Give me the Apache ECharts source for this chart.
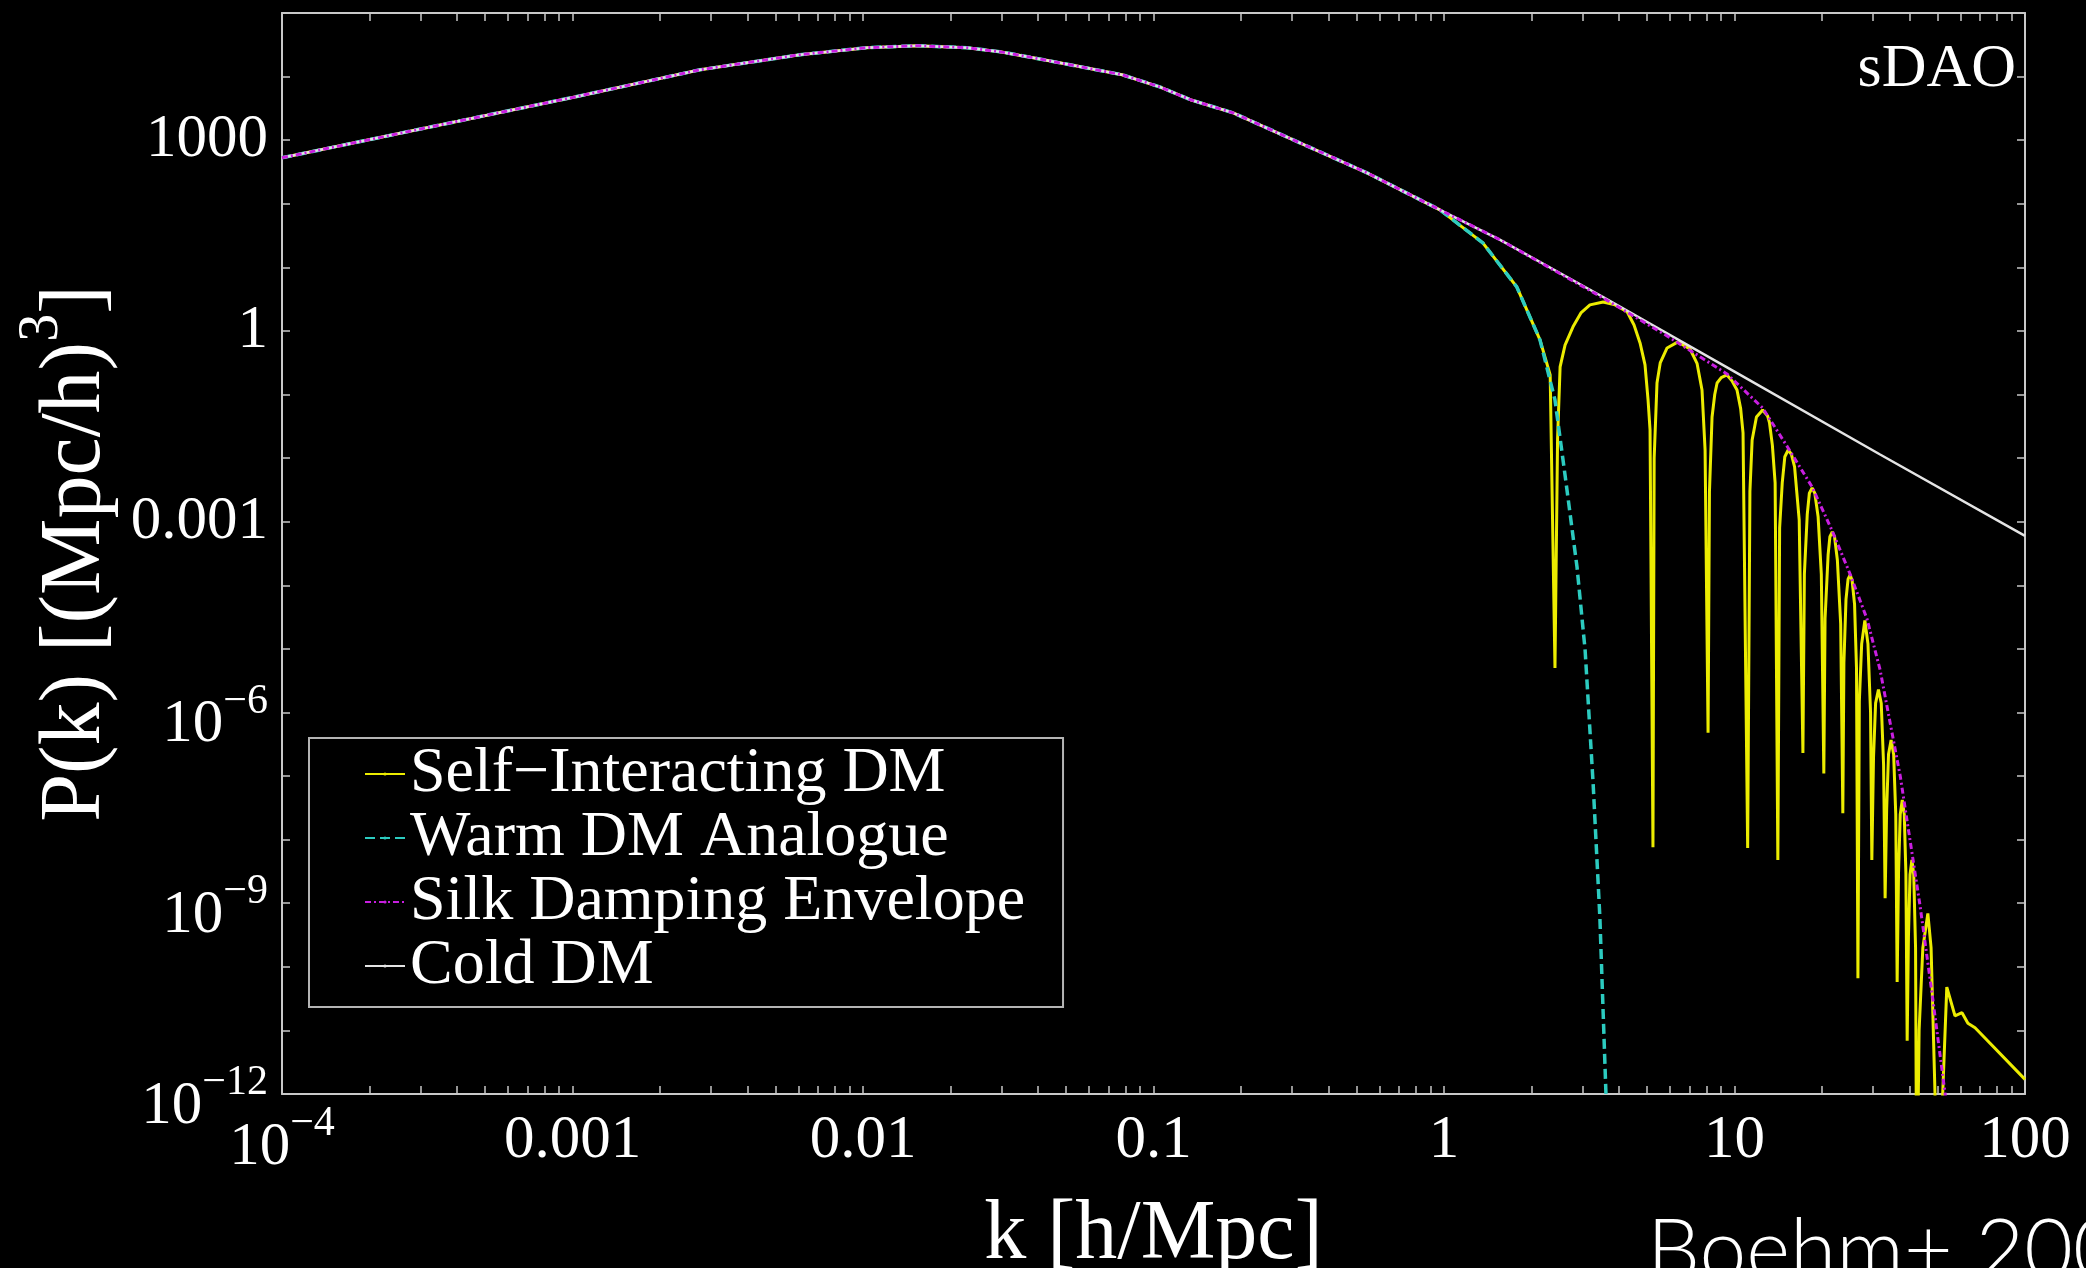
<!DOCTYPE html>
<html><head><meta charset="utf-8">
<script src="https://cdn.jsdelivr.net/npm/echarts@6/dist/echarts.min.js"></script>
<style>html,body{margin:0;padding:0;background:#000;overflow:hidden}#c{width:2086px;height:1268px}</style>
</head><body><div id="c"></div>
<script>
// ---- data (k in h/Mpc, P in (Mpc/h)^3) ----
// common large-scale part (all four spectra coincide here)
const lowK = [1e-4, 3e-4, 1e-3, 2.75e-3, 6.07e-3, 0.0103, 0.0154, 0.0228, 0.0296, 0.0385, 0.055, 0.0779, 0.105, 0.134, 0.188, 0.319, 0.543, 0.968];
const lowP = [528, 1500, 4700, 12800, 22100, 28500, 30600, 28500, 24600, 19800, 14500, 10700, 6900, 4330, 2690, 910, 307, 80.3];

const cdmK = [1.56, 3.53, 10, 31.6, 100];
const cdmP = [27.1, 3.42, 0.229, 0.0115, 5.97e-4];

const silkK = [1.56, 3.53, 5.86, 9.42, 12.5, 15.3, 18.5, 21.7, 25.0, 28.6, 31.7, 37.2, 43.5, 48.2, 53.1, 57.4];
const silkP = [27.1, 3.3, 0.836, 0.211, 0.0615, 0.01445, 3.52e-3, 7.14e-4, 1.5e-4, 2.94e-5, 4.7e-6, 1.0e-7, 9.3e-10, 3.0e-11, 1.0e-12, 2e-14];

const wdmK = [1.36, 1.78, 2.14, 2.41, 2.61, 2.87, 3.06, 3.26, 3.44, 3.61, 3.73];
const wdmP = [24.3, 4.93, 0.723, 0.0822, 5.43e-3, 1.94e-4, 9.6e-6, 7.8e-8, 6.0e-10, 1e-12, 1e-14];

const sidmK = [1.36, 1.78, 2.14, 2.32,
  2.41, 2.46, 2.51, 2.61, 2.78, 2.96, 3.18, 3.53, 3.88, 4.27, 4.51, 4.73, 4.92, 5.04, 5.12,
  5.24, 5.29, 5.41, 5.55, 5.86, 6.39, 7.03, 7.43, 7.73, 7.92,
  8.11, 8.2, 8.37, 8.55, 8.71, 9.0, 9.42, 9.8, 10.2, 10.5, 10.7,
  11.1, 11.3, 11.5, 11.9, 12.5, 13.0, 13.2, 13.5, 13.8,
  14.1, 14.3, 14.6, 14.9, 15.3, 15.7, 16.1, 16.7,
  17.2, 17.4, 17.8, 18.1, 18.5, 18.9, 19.4, 19.9,
  20.3, 20.5, 21.0, 21.3, 21.7, 22.1, 22.6, 23.2,
  23.6, 23.8, 24.2, 24.6, 25.0, 25.4, 25.9, 26.3,
  26.6, 26.9, 27.4, 28.1, 28.8, 29.4,
  29.7, 30.1, 30.6, 31.3, 32.0, 32.6,
  33.0, 33.4, 33.9, 34.6, 35.3, 35.9,
  36.3, 36.7, 37.2, 37.8, 38.4, 38.9,
  39.3, 39.7, 40.2, 40.8, 41.4, 42.0,
  42.4, 43.2, 44.5, 46.3, 47.5, 49.0,
  50.1, 53.8, 57.4, 60.7, 63.6, 67.3, 100];
const sidmP = [24.3, 4.93, 0.723, 0.204,
  5.0e-6, 0.02, 0.272, 0.60, 1.16, 1.92, 2.57, 2.86, 2.57, 2.0, 1.24, 0.648, 0.292, 0.0822, 0.0277,
  7.6e-9, 0.01, 0.152, 0.314, 0.54, 0.673, 0.52, 0.31, 0.118, 0.0134,
  4.8e-7, 0.003, 0.0443, 0.10, 0.152, 0.184, 0.203, 0.164, 0.118, 0.06, 0.0249,
  7.4e-9, 0.003, 0.0193, 0.0443, 0.0571, 0.046, 0.0357, 0.016, 4.07e-3,
  4.8e-9, 8e-4, 4.07e-3, 0.0105, 0.0134, 0.0115, 7.3e-3, 1.07e-3,
  2.3e-7, 1.5e-4, 1.3e-3, 2.8e-3, 3.4e-3, 2.8e-3, 1.2e-3, 1.5e-4,
  1.1e-7, 3e-5, 3e-4, 5.8e-4, 6.9e-4, 5.8e-4, 2.5e-4, 2.5e-5,
  2.6e-8, 6e-6, 6e-5, 1.25e-4, 1.45e-4, 1.2e-4, 5e-5, 5e-6,
  6.6e-11, 1.5e-6, 1.2e-5, 2.8e-5, 1.2e-5, 1e-6,
  4.8e-9, 2e-7, 1.4e-6, 2.3e-6, 1.4e-6, 1.5e-7,
  1.2e-9, 3e-8, 2.2e-7, 3.7e-7, 2.2e-7, 2.5e-8,
  5.8e-11, 3e-9, 2.5e-8, 4.2e-8, 2.5e-8, 3e-9,
  6.9e-12, 3e-10, 2.8e-9, 4.8e-9, 2.8e-9, 2e-10,
  1e-14, 1e-11, 2e-10, 6.9e-10, 2e-10, 1e-12,
  1e-14, 4.8e-11, 1.7e-11, 1.9e-11, 1.3e-11, 1.1e-11, 1.7e-12];

// ---- axis ticks / labels ----
const xLabelValues = [1e-4, 1e-3, 1e-2, 0.1, 1, 10, 100];
const xLabelTexts = ['{b|10}{s|\u22124}', '0.001', '0.01', '0.1', '1', '10', '100'];
const yLabelValues = [1e-12, 1e-9, 1e-6, 1e-3, 1, 1000];
const yLabelTexts = ['{b|10}{s|\u221212}', '{b|10}{s|\u22129}', '{b|10}{s|\u22126}', '0.001', '1', '1000'];
const xDecades = [1e-4, 1e-3, 1e-2, 0.1, 1, 10];
const mantissas = [1, 2, 3, 4, 5, 6, 7, 8, 9];
const yTickValues = [1e-12, 1e-11, 1e-10, 1e-9, 1e-8, 1e-7, 1e-6, 1e-5, 1e-4, 1e-3, 1e-2, 0.1, 1, 10, 100, 1000, 1e4, 1e5];

const seriesNames = ['Self\u2212Interacting DM', 'Warm DM Analogue', 'Silk Damping Envelope', 'Cold DM'];

function pairs(ks, ps) { return ks.map((k, i) => [k, ps[i]]); }
const xTickValues = [];
xDecades.forEach(d => mantissas.forEach(m => xTickValues.push(m * d)));
xTickValues.push(100);

function pick(values, texts, v) {
  for (let i = 0; i < values.length; i++) {
    if (Math.abs(Math.log10(v) - Math.log10(values[i])) < 1e-6) return texts[i];
  }
  return '';
}

const SERIF = 'Liberation Serif, Times New Roman, serif';
const frame = '#c8c8c8';
const tickStyle = { color: frame, width: 1.5 };

const xRich = {
  b: { fontSize: 61, fontFamily: SERIF, color: '#fff', lineHeight: 62, padding: [14, 0, 0, 0] },
  s: { fontSize: 42, fontFamily: SERIF, color: '#fff', lineHeight: 42, padding: [0, 0, 34, 0] }
};
const yRich = {
  b: { fontSize: 61, fontFamily: SERIF, color: '#fff', lineHeight: 62, padding: [26, 0, 0, 0] },
  s: { fontSize: 42, fontFamily: SERIF, color: '#fff', lineHeight: 42, padding: [12, 0, 34, 0] }
};

const chart = echarts.init(document.getElementById('c'), null, { renderer: 'canvas' });
chart.setOption({
  backgroundColor: '#000',
  animation: false,
  title: [
    { text: 'sDAO', right: 70, top: 39, padding: 0,
      textStyle: { color: '#fff', fontFamily: SERIF, fontSize: 62, fontWeight: 'normal' } },
    { text: 'Boehm+ 200', left: 1647, top: 1210, padding: 0,
      textStyle: { color: '#fff', fontFamily: 'Lato, Open Sans, sans-serif', fontSize: 84, fontWeight: 300 } }
  ],
  grid: { left: 282, right: 61, top: 13, bottom: 174, containLabel: false, outerBoundsMode: 'none' },
  legend: {
    orient: 'vertical', left: 309, top: 738,
    backgroundColor: '#000', borderColor: '#b4b4b4', borderWidth: 2, borderRadius: 0,
    padding: [4, 38, 9, 55],
    itemWidth: 40, itemHeight: 4, itemGap: 0,
    selectedMode: false,
    textStyle: { color: '#fff', fontFamily: SERIF, fontSize: 64, lineHeight: 64 },
    data: seriesNames
  },
  xAxis: [
    { type: 'log', logBase: 10, min: 1e-4, max: 100, position: 'bottom',
      name: 'k [h/Mpc]', nameLocation: 'middle', nameGap: 100,
      nameTextStyle: { color: '#fff', fontFamily: SERIF, fontSize: 84, lineHeight: 84 },
      axisLine: { show: true, lineStyle: { color: frame, width: 2 } },
      axisTick: { show: true, inside: true, length: 8, customValues: xTickValues, lineStyle: tickStyle },
      axisLabel: { show: true, margin: 16, customValues: xLabelValues, color: '#fff', fontFamily: SERIF, fontSize: 61, lineHeight: 62,
        formatter: v => pick(xLabelValues, xLabelTexts, v), rich: xRich },
      splitLine: { show: false }, minorTick: { show: false }
    },
    { type: 'log', logBase: 10, min: 1e-4, max: 100, position: 'top',
      axisLine: { show: true, lineStyle: { color: frame, width: 2 } },
      axisTick: { show: true, inside: true, length: 8, customValues: xTickValues, lineStyle: tickStyle },
      axisLabel: { show: false }, splitLine: { show: false }
    }
  ],
  yAxis: [
    { type: 'log', logBase: 10, min: 1e-12, max: 1e5, position: 'left',
      name: '{n|P(k) [(Mpc/h)}{s|3}{n|]}', nameLocation: 'middle', nameRotate: 90, nameGap: 163,
      nameTextStyle: { color: '#fff', fontFamily: SERIF, fontSize: 86,
        rich: {
          n: { fontSize: 86, fontFamily: SERIF, color: '#fff', lineHeight: 86, padding: [20, 0, 0, 0] },
          s: { fontSize: 56, fontFamily: SERIF, color: '#fff', lineHeight: 56, padding: [0, 0, 50, 0] }
        } },
      axisLine: { show: true, lineStyle: { color: frame, width: 2 } },
      axisTick: { show: true, inside: true, length: 8, customValues: yTickValues, lineStyle: tickStyle },
      axisLabel: { show: true, margin: 14, customValues: yLabelValues, color: '#fff', fontFamily: SERIF, fontSize: 61, lineHeight: 62,
        formatter: v => pick(yLabelValues, yLabelTexts, v), rich: yRich },
      splitLine: { show: false }, minorTick: { show: false }
    },
    { type: 'log', logBase: 10, min: 1e-12, max: 1e5, position: 'right',
      axisLine: { show: true, lineStyle: { color: frame, width: 2 } },
      axisTick: { show: true, inside: true, length: 8, customValues: yTickValues, lineStyle: tickStyle },
      axisLabel: { show: false }, splitLine: { show: false }
    }
  ],
  series: [
    { name: seriesNames[0], type: 'line', xAxisIndex: 0, yAxisIndex: 0, symbol: 'none', clip: true,
      data: pairs(lowK, lowP).concat(pairs(sidmK, sidmP)),
      lineStyle: { color: '#ecec00', width: 3 }, itemStyle: { color: '#ecec00' } },
    { name: seriesNames[1], type: 'line', xAxisIndex: 0, yAxisIndex: 0, symbol: 'none', clip: true,
      data: pairs(lowK, lowP).concat(pairs(wdmK, wdmP)),
      lineStyle: { color: '#2ccbc0', width: 3.5, type: [10, 5] }, itemStyle: { color: '#2ccbc0' } },
    { name: seriesNames[3], type: 'line', xAxisIndex: 0, yAxisIndex: 0, symbol: 'none', clip: true,
      data: pairs(lowK, lowP).concat(pairs(cdmK, cdmP)),
      lineStyle: { color: '#e4e4e4', width: 2.5 }, itemStyle: { color: '#e4e4e4' } },
    { name: seriesNames[2], type: 'line', xAxisIndex: 0, yAxisIndex: 0, symbol: 'none', clip: true,
      data: pairs(lowK, lowP).concat(pairs(silkK, silkP)),
      lineStyle: { color: '#c81ee0', width: 3, type: [6, 3, 2, 3] }, itemStyle: { color: '#c81ee0' } }
  ]
});
</script></body></html>
